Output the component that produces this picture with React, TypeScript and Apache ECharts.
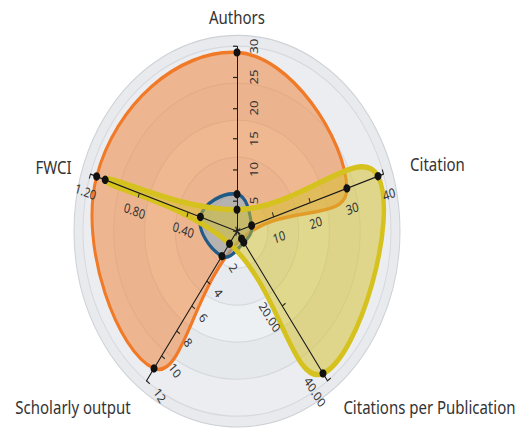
import React, { useEffect, useRef } from 'react';
import * as echarts from 'echarts';

// ---- data ----
const indicatorNames = ['Authors', 'FWCI', 'Scholarly output', 'Citations per Publication', 'Citation'];
const indicatorMax = [30, 1.2, 12, 40, 40];
const tickIntervals = [5, 0.4, 2, 20, 10];
const labelDecimals = [0, 2, 0, 2, 0];

const seriesNames = ['Series A', 'Series B', 'Series C'];
const orangeValues = [29, 1.15, 11, 2, 30];
const blueValues = [6, 0.3, 2, 3, 4];
const yellowValues = [3.5, 1.08, 1, 38, 38.5];

// ---- layout / style ----
const W = 527;
const H = 358;
const CX = 237;
const CY = 192.5;
const R = 154;
const FONT = 'Noto Sans';
const nameGaps = [17, 20, 27, 27, 28];

const labelStyles = [
  { rotate: 90, margin: -11, verticalAlign: 'top', inside: true },
  { rotate: -18, margin: 10, inside: false },
  { rotate: -54, margin: 12, inside: false },
  { rotate: -54, margin: -10, verticalAlign: 'top', inside: true },
  { rotate: 18, margin: -12, verticalAlign: 'top', inside: true },
];

const seriesStyles = [
  { values: orangeValues, stroke: '#f07a28', fill: 'rgba(242,128,48,0.5)', width: 3 },
  { values: blueValues, stroke: '#1f5b86', fill: 'rgba(110,170,210,0.45)', width: 3 },
  { values: yellowValues, stroke: '#d6c21e', fill: 'rgba(212,192,40,0.5)', width: 4.5 },
];

function makeIndicators(labelled: number[]) {
  return indicatorNames.map((name, i) => {
    const show = labelled.indexOf(i) >= 0;
    const ls: any = labelStyles[i];
    const dec = labelDecimals[i];
    return {
      name,
      min: 0,
      max: indicatorMax[i],
      nameGap: nameGaps[i],
      axisTick: { show, inside: ls.inside },
      axisLabel: show
        ? {
            show: true,
            rotate: ls.rotate,
            margin: ls.margin,
            ...(ls.verticalAlign ? { verticalAlign: ls.verticalAlign } : {}),
            formatter: (v: number) => (Math.abs(v) < 1e-9 ? '' : Number(v).toFixed(dec)),
          }
        : { show: false },
    };
  });
}

function baseRadar(extra: any) {
  return {
    center: [CX, CY],
    radius: R,
    startAngle: 90,
    shape: 'circle',
    axisName: { show: false },
    splitLine: { show: false },
    splitArea: { show: false },
    axisLine: { show: false },
    axisTick: { show: false },
    axisLabel: { show: false },
    ...extra,
  };
}

export default function App() {
  const ref = useRef<HTMLDivElement>(null);
  useEffect(() => {
    if (!ref.current) return;
    const chart = echarts.init(ref.current, undefined, { renderer: 'svg' });
    const n = indicatorNames.length;

    const labelAxisCommon = {
      axisTick: { show: true, length: 4, lineStyle: { color: '#222', width: 1 } },
      axisLabel: { show: true, color: '#333', fontSize: 11, fontFamily: FONT },
    };

    const groups: Record<number, number[]> = {};
    indicatorMax.forEach((m, i) => {
      const sn = Math.round(m / tickIntervals[i]);
      (groups[sn] = groups[sn] || []).push(i);
    });
    const mainSplit = 6;
    const otherSplits = Object.keys(groups).map(Number).filter((k) => k !== mainSplit);

    const radars: any[] = [
      baseRadar({
        z: 0,
        radius: 163,
        splitNumber: 1,
        indicator: makeIndicators([]),
        splitArea: { show: true, areaStyle: { color: ['#e8eaed'] } },
        splitLine: { show: true, lineStyle: { color: '#cdd1d5', width: 1 } },
      }),
      baseRadar({
        z: 0,
        splitNumber: 5,
        indicator: makeIndicators([]),
        splitArea: { show: true, areaStyle: { color: ['#eef2f6', '#e7eaee', '#edf0f3', '#e6e9ec', '#ebedf0'] } },
        splitLine: { show: true, lineStyle: { color: '#d6d9dd', width: 1 } },
      }),
      baseRadar({
        z: 3,
        splitNumber: mainSplit,
        indicator: makeIndicators(groups[mainSplit] || []),
        axisName: { show: true, color: '#333', fontSize: 15, fontFamily: FONT },
        axisLine: { show: true, lineStyle: { color: '#1a1a1a', width: 1 } },
        ...labelAxisCommon,
      }),
      ...otherSplits.map((sn) =>
        baseRadar({
          z: 3,
          splitNumber: sn,
          indicator: makeIndicators(groups[sn]),
          ...labelAxisCommon,
        })
      ),
    ];

    const customSeries = seriesStyles.map((st, k) => ({
      type: 'custom',
      name: seriesNames[k],
      coordinateSystem: 'polar',
      z: 2,
      data: [[0, 0]],
      renderItem: (_params: any, api: any) => {
        const pts = st.values.map((v, i) => api.coord([v / indicatorMax[i], (i * 360) / n]));
        return {
          type: 'polygon',
          shape: { points: pts, smooth: 0.45 },
          style: { fill: st.fill, stroke: st.stroke, lineWidth: st.width, lineJoin: 'round' },
        };
      },
    }));

    chart.setOption({
      animation: false,
      polar: { center: [CX, CY], radius: R },
      angleAxis: { type: 'value', min: 0, max: 360, startAngle: 90, clockwise: false, show: false },
      radiusAxis: { type: 'value', min: 0, max: 1, show: false },
      radar: radars,
      series: [
        ...customSeries,
        {
          type: 'radar',
          radarIndex: 2,
          z: 5,
          symbol: 'circle',
          symbolSize: 7,
          itemStyle: { color: '#111' },
          lineStyle: { width: 0, opacity: 0 },
          data: seriesStyles.map((st, k) => ({ name: seriesNames[k], value: st.values })),
        },
      ],
    });
    return () => chart.dispose();
  }, []);

  return (
    <div
      ref={ref}
      style={{
        position: 'absolute',
        left: 0,
        top: 0,
        width: W,
        height: H,
        transform: `scaleY(${430 / H})`,
        transformOrigin: '0 0',
      }}
    />
  );
}
